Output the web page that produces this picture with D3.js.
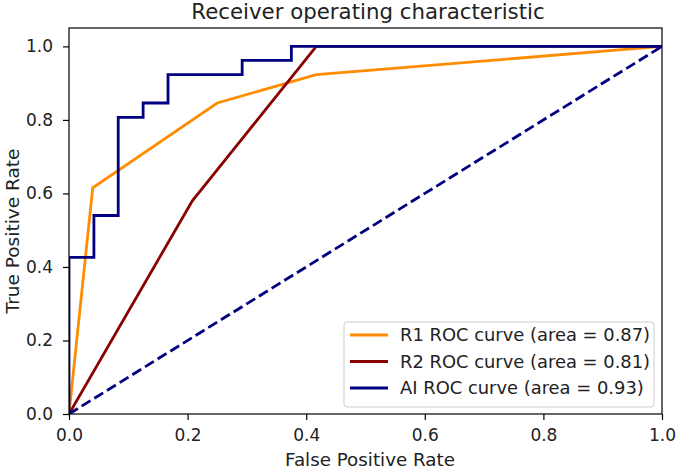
<!DOCTYPE html>
<html>
<head>
<meta charset="utf-8">
<script src="https://cdn.jsdelivr.net/npm/d3@7"></script>
<style>
  body { margin: 0; background: #fff; }
  text { font-family: "DejaVu Sans", sans-serif; fill: #222; }
</style>
</head>
<body>
<script>
// ROC points
var r1Fpr = [0, 0.04, 0.25, 0.417, 1];
var r1Tpr = [0, 0.615, 0.846, 0.923, 1];
var r2Fpr = [0, 0.208, 0.417, 1];
var r2Tpr = [0, 0.58, 1, 1];
var aiFpr = [0, 0, 0.042, 0.042, 0.083, 0.083, 0.125, 0.125, 0.167, 0.167, 0.292, 0.292, 0.375, 0.375, 1];
var aiTpr = [0, 0.426, 0.426, 0.54, 0.54, 0.807, 0.807, 0.846, 0.846, 0.923, 0.923, 0.962, 0.962, 1, 1];
var chanceFpr = [0, 1];
var chanceTpr = [0, 1];
var legendLabels = ["R1 ROC curve (area = 0.87)", "R2 ROC curve (area = 0.81)", "AI ROC curve (area = 0.93)"];
var tickValues = [0, 0.2, 0.4, 0.6, 0.8, 1.0];

var W = 677, H = 469;
var pLeft = 69, pRight = 662, pTop = 28, pBottom = 414;

var svg = d3.select("body").append("svg").attr("width", W).attr("height", H);

var x = d3.scaleLinear().domain([0, 1]).range([pLeft, pRight]);
var y = d3.scaleLinear().domain([0, 1.05]).range([pBottom, pTop]);

function pts(xs, ys) { return xs.map(function(v, i) { return [v, ys[i]]; }); }
var line = d3.line().x(function(d) { return x(d[0]); }).y(function(d) { return y(d[1]); });

svg.append("clipPath").attr("id", "clip").append("rect")
  .attr("x", pLeft).attr("y", pTop).attr("width", pRight - pLeft).attr("height", pBottom - pTop);

var plot = svg.append("g").attr("clip-path", "url(#clip)");

var series = [
  { d: pts(r1Fpr, r1Tpr), c: "#ff8c00" },
  { d: pts(r2Fpr, r2Tpr), c: "#8b0000" },
  { d: pts(aiFpr, aiTpr), c: "#000080" }
];

series.forEach(function(s) {
  plot.append("path").attr("d", line(s.d))
    .attr("fill", "none").attr("stroke", s.c).attr("stroke-width", 2.8)
    .attr("stroke-linejoin", "miter").attr("stroke-linecap", "square");
});
plot.append("path").attr("d", line(pts(chanceFpr, chanceTpr)))
  .attr("fill", "none").attr("stroke", "#000080").attr("stroke-width", 2.8)
  .attr("stroke-dasharray", "10.4,4.5");

// axes
var xAxis = d3.axisBottom(x).tickValues(tickValues).tickFormat(d3.format(".1f")).tickSize(6).tickPadding(9);
var yAxis = d3.axisLeft(y).tickValues(tickValues).tickFormat(d3.format(".1f")).tickSize(6).tickPadding(10);

var gx = svg.append("g").attr("transform", "translate(0," + pBottom + ")").call(xAxis);
var gy = svg.append("g").attr("transform", "translate(" + pLeft + ",0)").call(yAxis);
[gx, gy].forEach(function(g) {
  g.select(".domain").remove();
  g.selectAll(".tick line").attr("stroke", "#000").attr("stroke-width", 1.2);
  g.selectAll(".tick text").attr("font-size", 17).attr("fill", "#222")
    .style("font-family", "DejaVu Sans, sans-serif");
});

svg.append("rect").attr("x", pLeft).attr("y", pTop)
  .attr("width", pRight - pLeft).attr("height", pBottom - pTop)
  .attr("fill", "none").attr("stroke", "#000").attr("stroke-width", 1.2);

svg.append("text").attr("x", 368).attr("y", 18.5)
  .attr("text-anchor", "middle").attr("font-size", 21.3).text("Receiver operating characteristic");
svg.append("text").attr("x", 370).attr("y", 466)
  .attr("text-anchor", "middle").attr("font-size", 18.3).text("False Positive Rate");
svg.append("text").attr("transform", "translate(18.5,231) rotate(-90)")
  .attr("text-anchor", "middle").attr("font-size", 18.5).text("True Positive Rate");

// legend
var lg = svg.append("g");
lg.append("rect").attr("x", 344).attr("y", 322).attr("width", 310).attr("height", 85)
  .attr("rx", 3).attr("fill", "#fff").attr("fill-opacity", 0.8)
  .attr("stroke", "#ccc").attr("stroke-width", 1);
legendLabels.forEach(function(t, i) {
  var ly = 335 + i * 26.5;
  lg.append("line").attr("x1", 350).attr("x2", 388).attr("y1", ly).attr("y2", ly)
    .attr("stroke", series[i].c).attr("stroke-width", 2.8);
  lg.append("text").attr("x", 400).attr("y", ly + 6.3).attr("font-size", 17.9).text(t);
});
</script>
</body>
</html>
